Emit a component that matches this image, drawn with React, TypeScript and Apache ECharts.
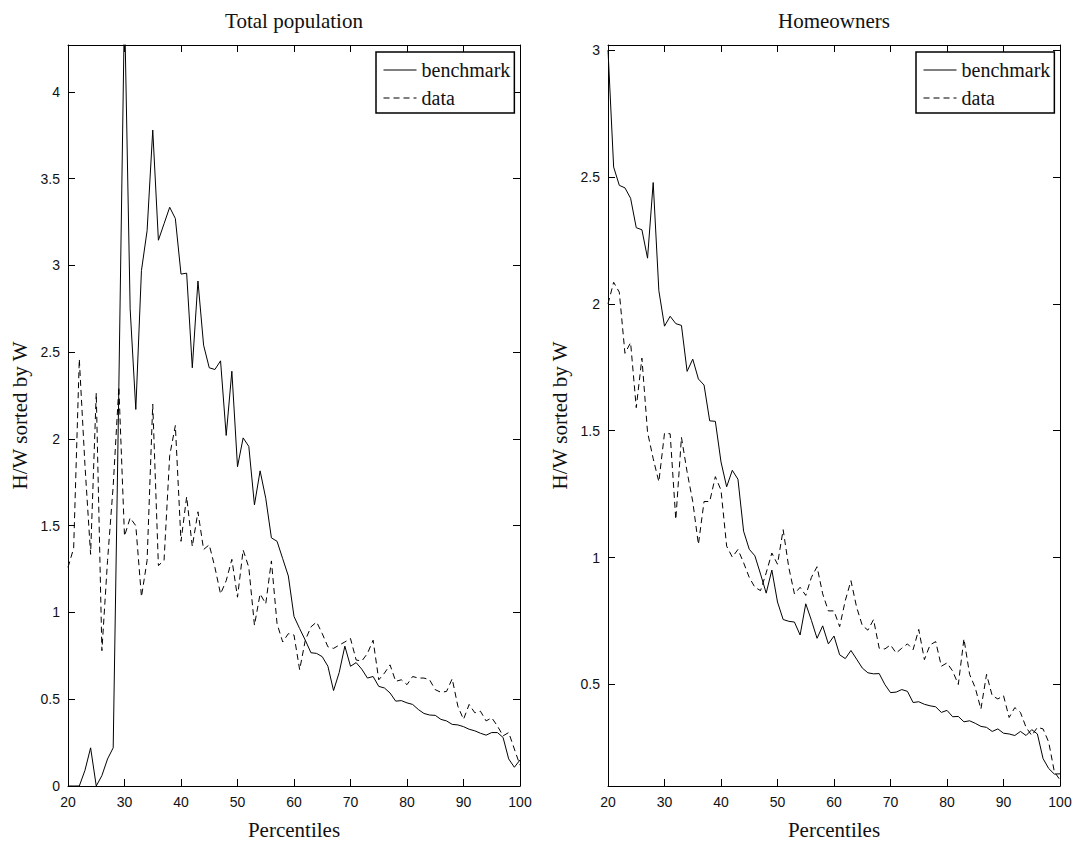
import React, { useEffect, useRef } from "react";
import * as echarts from "echarts";

// Percentile grid (x values)
const percentiles = [
  20, 21, 22, 23, 24, 25, 26, 27, 28, 29, 30, 31, 32, 33, 34, 35, 36, 37, 38, 39,
  40, 41, 42, 43, 44, 45, 46, 47, 48, 49, 50, 51, 52, 53, 54, 55, 56, 57, 58, 59,
  60, 61, 62, 63, 64, 65, 66, 67, 68, 69, 70, 71, 72, 73, 74, 75, 76, 77, 78, 79,
  80, 81, 82, 83, 84, 85, 86, 87, 88, 89, 90, 91, 92, 93, 94, 95, 96, 97, 98, 99, 100,
];

// Total population
const totalBenchmark = [
  0, 0, 0, 0.09, 0.22, 0, 0.06, 0.156, 0.22, 2.3, 4.5, 2.75, 2.17, 2.97, 3.2, 3.78, 3.145, 3.24, 3.335, 3.27,
  2.95, 2.955, 2.41, 2.91, 2.54, 2.41, 2.4, 2.45, 2.02, 2.39, 1.84, 2.006, 1.957, 1.62, 1.816, 1.658, 1.43, 1.41, 1.31, 1.21,
  0.977, 0.907, 0.84, 0.768, 0.764, 0.745, 0.69, 0.55, 0.654, 0.806, 0.69, 0.711, 0.673, 0.622, 0.631, 0.574, 0.565, 0.536, 0.489, 0.492,
  0.479, 0.47, 0.441, 0.418, 0.409, 0.407, 0.384, 0.375, 0.355, 0.352, 0.342, 0.327, 0.318, 0.304, 0.293, 0.308, 0.308, 0.28, 0.156, 0.108, 0.15,
];
const totalData = [
  1.26, 1.37, 2.46, 1.85, 1.335, 2.265, 0.78, 1.3, 1.73, 2.3, 1.44, 1.545, 1.5, 1.09, 1.3, 2.2, 1.27, 1.3, 1.905, 2.077,
  1.41, 1.667, 1.38, 1.58, 1.363, 1.39, 1.26, 1.107, 1.183, 1.306, 1.088, 1.36, 1.26, 0.926, 1.107, 1.05, 1.297, 0.935, 0.83, 0.878,
  0.87, 0.67, 0.84, 0.917, 0.945, 0.878, 0.802, 0.793, 0.812, 0.83, 0.85, 0.726, 0.72, 0.764, 0.84, 0.612, 0.65, 0.698, 0.603, 0.612,
  0.584, 0.631, 0.622, 0.622, 0.612, 0.555, 0.54, 0.545, 0.618, 0.46, 0.384, 0.47, 0.422, 0.431, 0.375, 0.393, 0.346, 0.289, 0.308, 0.213, 0.12,
];

// Homeowners
const ownersBenchmark = [
  3.0, 2.539, 2.467, 2.457, 2.416, 2.3, 2.292, 2.18, 2.478, 2.052, 1.912, 1.951, 1.922, 1.915, 1.734, 1.782, 1.704, 1.68, 1.539, 1.537,
  1.377, 1.279, 1.344, 1.309, 1.104, 1.033, 1.007, 0.935, 0.86, 0.951, 0.825, 0.756, 0.749, 0.746, 0.695, 0.818, 0.753, 0.682, 0.731, 0.66,
  0.691, 0.617, 0.602, 0.634, 0.6, 0.565, 0.546, 0.542, 0.543, 0.5, 0.468, 0.47, 0.48, 0.473, 0.429, 0.432, 0.422, 0.416, 0.412, 0.39,
  0.398, 0.373, 0.374, 0.353, 0.357, 0.347, 0.335, 0.331, 0.315, 0.325, 0.308, 0.305, 0.299, 0.315, 0.299, 0.322, 0.305, 0.208, 0.169, 0.147, 0.148,
];
const ownersData = [
  2.0, 2.085, 2.046, 1.805, 1.847, 1.591, 1.786, 1.494, 1.39, 1.299, 1.49, 1.488, 1.15, 1.474, 1.338, 1.221, 1.052, 1.221, 1.221, 1.319,
  1.266, 1.045, 1.002, 1.032, 0.98, 0.922, 0.883, 0.87, 0.94, 1.018, 0.974, 1.11, 0.961, 0.857, 0.883, 0.851, 0.922, 0.964, 0.857, 0.79,
  0.79, 0.728, 0.831, 0.909, 0.805, 0.733, 0.714, 0.756, 0.643, 0.64, 0.656, 0.624, 0.643, 0.66, 0.637, 0.717, 0.598, 0.656, 0.669, 0.572,
  0.585, 0.553, 0.5, 0.68, 0.54, 0.487, 0.403, 0.54, 0.456, 0.443, 0.456, 0.37, 0.409, 0.39, 0.331, 0.299, 0.331, 0.325, 0.273, 0.156, 0.124,
];

const panelTitles = ["Total population", "Homeowners"];
const seriesNames = ["benchmark", "data"];
const xLabel = "Percentiles";
const yLabel = "H/W sorted by W";

const SANS = '"Liberation Sans", Arial, Helvetica, sans-serif';
const SERIF = '"Liberation Serif", "Times New Roman", serif';

const halfStepLabel = (v: number) =>
  Math.abs(v * 2 - Math.round(v * 2)) < 1e-6 ? String(v) : "";

export default function App() {
  const ref = useRef<HTMLDivElement>(null);

  useEffect(() => {
    document.body.style.margin = "0";
    const chart = echarts.init(ref.current!, null, { renderer: "svg" });

    const axisLine = { show: true, onZero: false, lineStyle: { color: "#000", width: 1 } };
    const axisTick = { show: true, inside: true, length: 7, lineStyle: { color: "#000", width: 1 } };
    const labelStyle = { fontFamily: SANS, fontSize: 14, color: "#111" };
    const nameStyle = { fontFamily: SERIF, fontSize: 21, color: "#111" };

    const grids = [
      { left: 68, top: 45, width: 452, height: 749 },
      { left: 608, top: 45, width: 452, height: 749 },
    ];
    const yRanges = [
      { min: 0, max: 4.27 },
      { min: 0.1, max: 3.02 },
    ];

    const xAxis: any[] = [];
    const yAxis: any[] = [];
    grids.forEach((_, g) => {
      xAxis.push({
        gridIndex: g, type: "value", position: "bottom", min: 20, max: 100, interval: 10,
        axisLine, axisTick, splitLine: { show: false },
        axisLabel: { ...labelStyle, margin: 9 },
        name: xLabel, nameLocation: "middle", nameGap: 33, nameTextStyle: nameStyle,
      });
      xAxis.push({
        gridIndex: g, type: "value", position: "top", min: 20, max: 100, interval: 10,
        axisLine, axisTick, splitLine: { show: false }, axisLabel: { show: false },
      });
      yAxis.push({
        gridIndex: g, type: "value", position: "left", ...yRanges[g],
        minInterval: 0.5, maxInterval: 0.5,
        axisLine, axisTick, splitLine: { show: false },
        axisLabel: { ...labelStyle, margin: 8, formatter: halfStepLabel },
        name: yLabel, nameLocation: "middle", nameGap: 38, nameRotate: 90, nameTextStyle: nameStyle,
      });
      yAxis.push({
        gridIndex: g, type: "value", position: "right", ...yRanges[g],
        minInterval: 0.5, maxInterval: 0.5,
        axisLine, axisTick, splitLine: { show: false }, axisLabel: { show: false },
      });
    });

    const panels = [
      [totalBenchmark, totalData],
      [ownersBenchmark, ownersData],
    ];
    const series: any[] = [];
    panels.forEach((pair, g) => {
      pair.forEach((vals, k) => {
        series.push({
          type: "line",
          name: seriesNames[k],
          xAxisIndex: g * 2,
          yAxisIndex: g * 2,
          data: percentiles.map((p, i) => [p, vals[i]]),
          symbol: "none",
          clip: true,
          lineStyle: { color: "#000", width: 1, type: k === 0 ? "solid" : [6, 4] },
          itemStyle: { color: "#000" },
        });
      });
    });

    const legendLefts = [376, 916];
    const legend = legendLefts.map((left) => ({
      left, top: 52,
      orient: "vertical",
      data: seriesNames,
      itemWidth: 33, itemHeight: 14, itemGap: 8,
      padding: [8, 4, 5, 7],
      borderColor: "#000", borderWidth: 1.5, borderRadius: 0,
      backgroundColor: "#fff",
      itemStyle: { opacity: 0 },
      lineStyle: { width: 1 },
      textStyle: { fontFamily: SERIF, fontSize: 20, color: "#111" },
      selectedMode: false,
    }));

    const titleCenters = [294, 834];
    const graphic = titleCenters.map((x, i) => ({
      type: "text",
      x, y: 21,
      style: {
        text: panelTitles[i],
        textAlign: "center",
        textVerticalAlign: "middle",
        font: `21px ${SERIF}`,
        fill: "#111",
      },
    }));

    chart.setOption({
      animation: false,
      backgroundColor: "#fff",
      grid: grids,
      xAxis,
      yAxis,
      legend,
      series,
      graphic,
    });

    return () => chart.dispose();
  }, []);

  return <div ref={ref} style={{ width: 1075, height: 845 }} />;
}
